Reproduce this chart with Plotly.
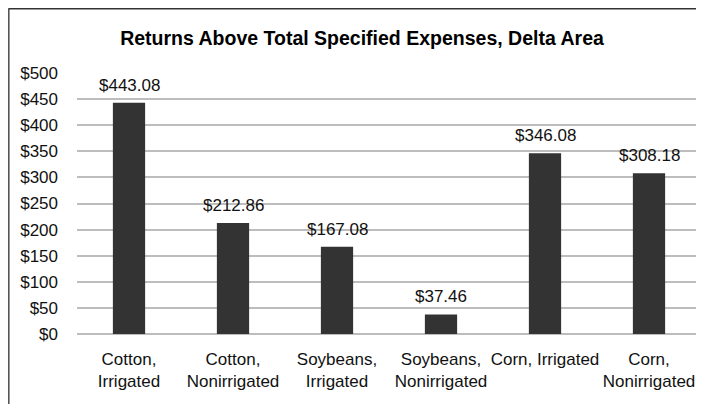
import plotly.graph_objects as go

categories = ["Cotton,<br>Irrigated", "Cotton,<br>Nonirrigated", "Soybeans,<br>Irrigated",
              "Soybeans,<br>Nonirrigated", "Corn, Irrigated", "Corn,<br>Nonirrigated"]
values = [443.08, 212.86, 167.08, 37.46, 346.08, 308.18]
tick_vals = [0, 50, 100, 150, 200, 250, 300, 350, 400, 450, 500]
tick_text = ["$" + str(v) for v in tick_vals]
title_text = "Returns Above Total Specified Expenses, Delta Area"

FONT = "Liberation Sans, Arial, sans-serif"

fig = go.Figure()
fig.add_trace(go.Bar(
    x=categories, y=values,
    marker=dict(color="#333333", line=dict(width=0)),
    width=0.31,
    hoverinfo="skip",
))

for c, v in zip(categories, values):
    fig.add_annotation(x=c, y=v, text="$" + format(v, ".2f"), showarrow=False,
                       yanchor="bottom", yshift=6,
                       font=dict(family=FONT, size=17, color="#111111"))

# page body has an 8px margin, so the figure is 696x396 placed at (8, 8)
W, H = 696, 396
L, R, T, B = 69, 3, 65, 70
pw = W - L - R
ph = H - T - B

# outer border: only left and top edges are visible in the frame
bx = (0.5 - L) / pw
by = 1 + (T - 0.5) / ph
fig.add_shape(type="line", xref="paper", yref="paper",
              x0=bx, x1=bx, y0=-(B + 5) / ph, y1=by,
              line=dict(color="#555555", width=2.2), layer="below")
fig.add_shape(type="line", xref="paper", yref="paper",
              x0=bx, x1=(W + 5 - L) / pw, y0=by, y1=by,
              line=dict(color="#333333", width=2), layer="below")

fig.update_layout(
    width=W, height=H,
    margin=dict(l=L, r=R, t=T, b=B, pad=0, autoexpand=False),
    paper_bgcolor="white", plot_bgcolor="white",
    showlegend=False,
    title=dict(text="<b>" + title_text + "</b>", x=354 / W, xanchor="center",
               y=1 - 30 / H, yanchor="middle",
               font=dict(family=FONT, size=19.5, color="#000000")),
    font=dict(family=FONT, size=17, color="#111111"),
)
fig.update_xaxes(
    type="category", showgrid=False, zeroline=False, showline=False,
    ticks="", tickangle=0, automargin=False,
    tickfont=dict(family=FONT, size=17, color="#111111"),
    ticklabelstandoff=13,
)
fig.update_yaxes(
    range=[0, 500], tickvals=tick_vals, ticktext=tick_text, automargin=False,
    showgrid=True, gridcolor="#bdbdbd", gridwidth=1.6,
    zeroline=True, zerolinecolor="#bdbdbd", zerolinewidth=1.6,
    showline=False, ticks="", ticklabelstandoff=18,
    tickfont=dict(family=FONT, size=17, color="#111111"),
)

fig.write_html("out.html")
